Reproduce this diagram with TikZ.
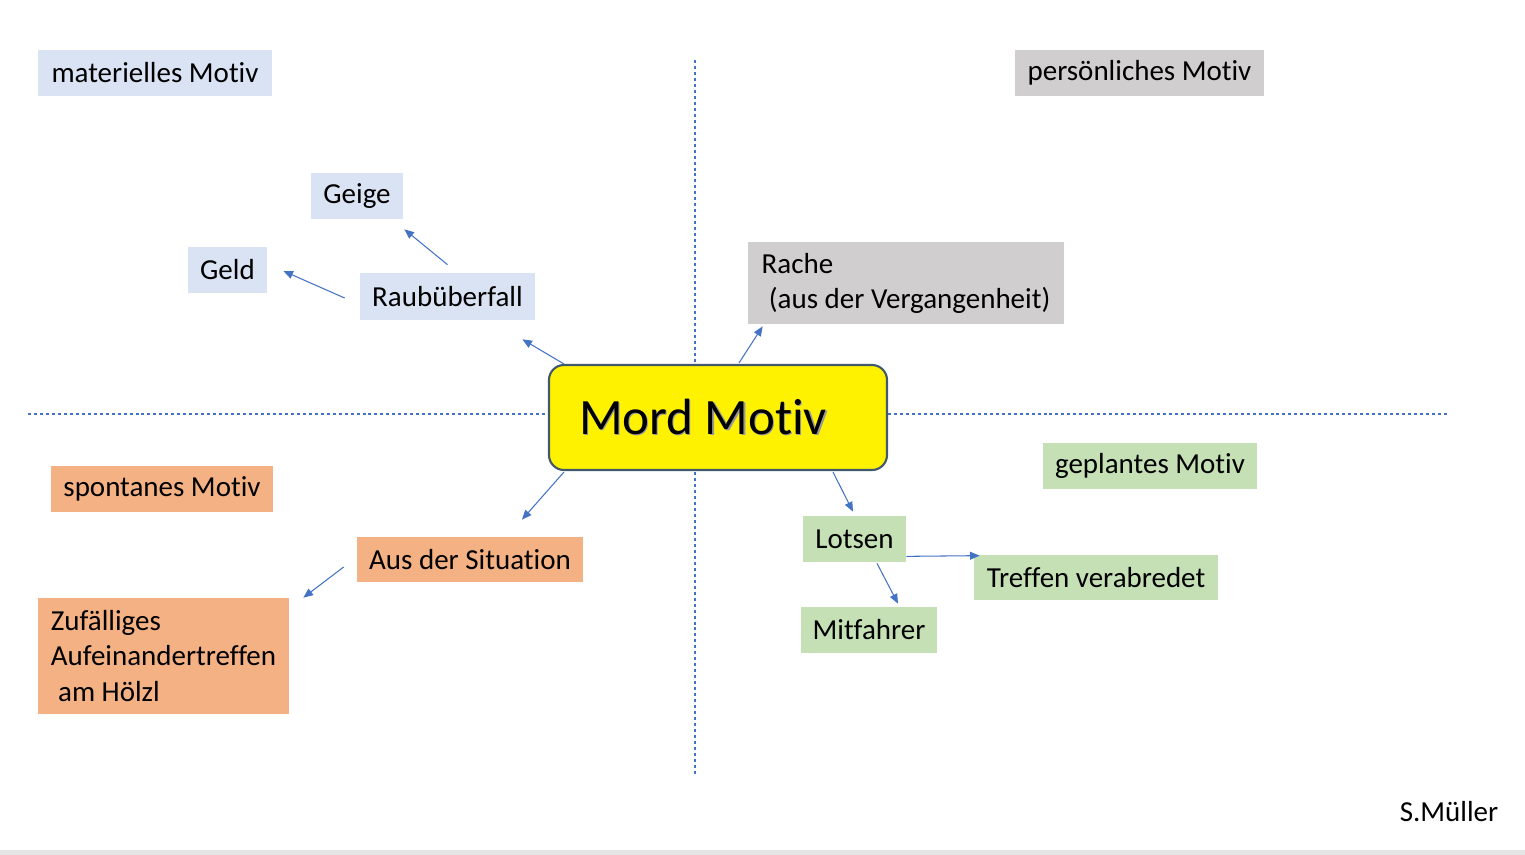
\documentclass[tikz,border=0pt]{standalone}
\usepackage{fontspec}
\setmainfont[Ligatures={NoCommon,NoRare,NoContextual},Contextuals=NoAlternate]{Carlito}
\usetikzlibrary{arrows.meta,calc}

\definecolor{matblue}{HTML}{DAE3F3}
\definecolor{persgrey}{HTML}{D0CECE}
\definecolor{spontorange}{HTML}{F4B183}
\definecolor{plangreen}{HTML}{C5E0B4}
\definecolor{linkblue}{HTML}{4472C4}
\definecolor{mordedge}{HTML}{41596B}

\tikzset{
  sz/.style 2 args={minimum width=#1*0.02cm, minimum height=#2*0.02cm},
  motiv/.style={inner sep=0pt, align=left, font=\fontsize{16.5}{20}\selectfont},
  mat/.style={motiv, fill=matblue},
  pers/.style={motiv, fill=persgrey},
  spont/.style={motiv, fill=spontorange},
  plan/.style={motiv, fill=plangreen},
  mordbox/.style={inner sep=0pt, fill=yellow, draw=mordedge, line width=1.2pt,
    rounded corners=0.3cm, font=\fontsize{29}{34}\selectfont},
  link/.style={draw=linkblue, line width=0.6pt, -{Triangle[length=5.5pt,width=4.5pt]}},
  axis/.style={draw=linkblue, line width=0.6pt, dash pattern=on 1.7pt off 1.7pt}
}

\begin{document}
\begin{tikzpicture}[x=0.02cm, y=-0.02cm]
  \useasboundingbox (0,0) rectangle (1525,855);
  \fill[gray!20] (0,850) rectangle (1525,855);
  % Achsen
  \draw[axis] (695,60) -- (695,775);
  \draw[axis] (28,414) -- (1447,414);

  % Mitte
  \node[mordbox, sz={338}{105}] (mord) at (718,417.5)
    {\makebox[0pt][l]{\raisebox{-0.8pt}{\hspace{0.8pt}\color{black!40}Mord Motiv}}Mord Motiv\hspace*{0.6cm}};

  % materiell
  \node[mat, sz={234}{46}] (mat) at (155,73) {materielles Motiv};
  \node[mat, sz={92}{46}] (geige) at (357,196) {Geige};
  \node[mat, sz={79}{46}] (geld) at (227.5,270) {Geld};
  \node[mat, sz={175}{47}] (raub) at (447.5,296.5) {Raubüberfall};

  % persoenlich
  \node[pers, sz={249}{46}] (pers) at (1139.5,73) {persönliches Motiv};
  \node[pers, sz={316}{82}] (rache) at (906,283) {Rache\\\hspace*{0.25em}(aus der Vergangenheit)};

  % spontan
  \node[spont, sz={222}{46}] (spont) at (162,489) {spontanes Motiv};
  \node[spont, sz={226}{45}] (aus) at (470,559.5) {Aus der Situation};
  \node[spont, sz={251}{116}] (zuf) at (163.5,656) {Zufälliges\\Aufeinandertreffen\\\hspace*{0.25em}am Hölzl};

  % geplant
  \node[plan, sz={214}{46}] (plan) at (1150,466) {geplantes Motiv};
  \node[plan, sz={103}{46}] (lotsen) at (854.5,539) {Lotsen};
  \node[plan, sz={244}{45}] (treffen) at (1096,577.5) {Treffen verabredet};
  \node[plan, sz={136}{46}] (mitf) at (869,630) {Mitfahrer};

  \node[motiv] (autor) at (1449,812) {S.Müller};

  % Pfeile
  \draw[link] ($(raub.north)+(0,-8)$) -- ($(geige.south east)+(1,10)$);
  \draw[link] ($(raub.west)+(-15,1.5)$) -- ($(geld.east)+(16,1)$);
  \draw[link] ($(mord.north west)+(16,0)$) -- ($(raub.south east)+(-13,19)$);
  \draw[link] ($(mord.north)+(21,-1)$) -- ($(rache.south west)+(15,2)$);
  \draw[link] ($(mord.south west)+(16,1)$) -- ($(aus.north)+(52,-17)$);
  \draw[link] ($(aus.west)+(-13,7.5)$) -- ($(zuf.north east)+(14,0)$);
  \draw[link] ($(mord.south)+(115,1)$) -- ($(lotsen.north)+(-1.5,-4)$);
  \draw[link] ($(lotsen.south east)+(0,-6)$) -- ($(treffen.north west)+(6,1)$);
  \draw[link] ($(lotsen.south)+(22.5,1)$) -- ($(mitf.north)+(29,-3)$);
\end{tikzpicture}
\end{document}
